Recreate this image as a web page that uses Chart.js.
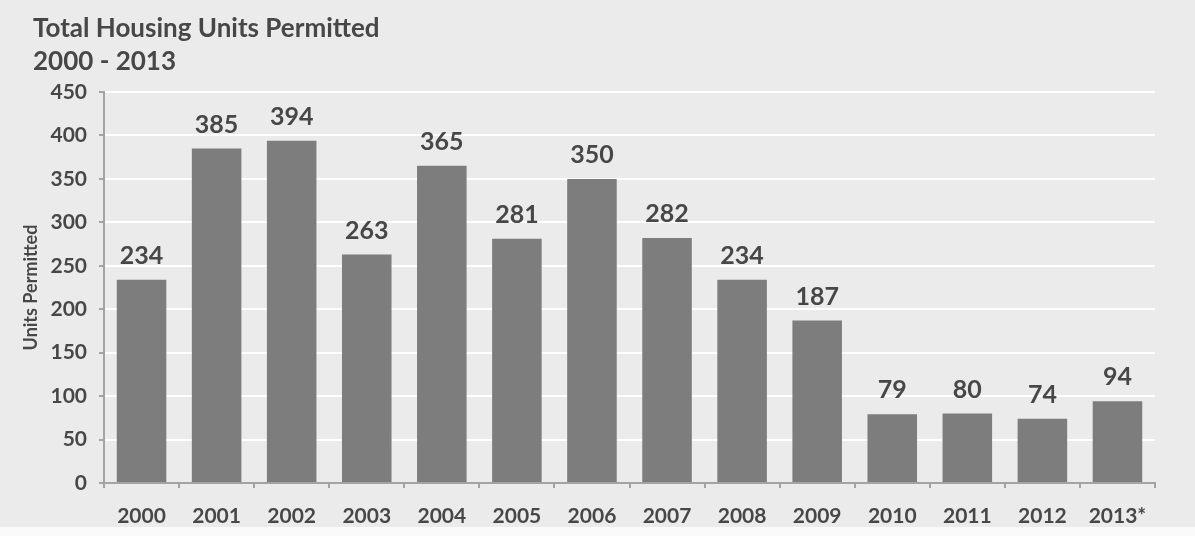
<!DOCTYPE html>
<html>
<head>
<meta charset="utf-8">
<script src="https://cdn.jsdelivr.net/npm/chart.js@4"></script>
<style>
  body { margin: 0; background: #fafafa; }
  canvas { display: block; }
</style>
</head>
<body>
<canvas id="permitsChart" width="1195" height="536"></canvas>
<script>
const years = ['2000', '2001', '2002', '2003', '2004', '2005', '2006', '2007', '2008', '2009', '2010', '2011', '2012', '2013*'];
const unitsPermitted = [234, 385, 394, 263, 365, 281, 350, 282, 234, 187, 79, 80, 74, 94];
const titleLines = ['Total Housing Units Permitted', '2000 - 2013'];

const textColor = '#474747';
const fontFamily = 'Lato, "Open Sans", sans-serif';

// page background, bottom margin strip + heading
const backdrop = {
    id: 'backdrop',
    beforeDraw(chart) {
        const ctx = chart.ctx;
        ctx.save();
        ctx.fillStyle = '#ebebeb';
        ctx.fillRect(0, 0, chart.width, chart.height);
        ctx.fillStyle = '#fafafa';
        ctx.fillRect(0, 527, chart.width, chart.height - 527);
        ctx.fillStyle = textColor;
        ctx.font = 'bold 26px ' + fontFamily;
        ctx.textAlign = 'left';
        ctx.textBaseline = 'middle';
        ctx.fillText(titleLines[0], 33, 29);
        ctx.fillText(titleLines[1], 33, 62);
        ctx.restore();
    }
};

// value above each bar
const barValues = {
    id: 'barValues',
    afterDatasetsDraw(chart) {
        const ctx = chart.ctx;
        const meta = chart.getDatasetMeta(0);
        ctx.save();
        ctx.fillStyle = textColor;
        ctx.font = 'bold 25px ' + fontFamily;
        ctx.textAlign = 'center';
        ctx.textBaseline = 'middle';
        meta.data.forEach((bar, i) => {
            ctx.fillText(unitsPermitted[i], bar.x, bar.y - 24);
        });
        ctx.restore();
    }
};

new Chart(document.getElementById('permitsChart'), {
    type: 'bar',
    data: {
        labels: years,
        datasets: [{
            data: unitsPermitted,
            backgroundColor: '#7d7d7d',
            borderWidth: 0,
            barPercentage: 0.66,
            categoryPercentage: 1
        }]
    },
    options: {
        responsive: false,
        animation: false,
        layout: { padding: { top: 92, right: 40, left: 0, bottom: 0 } },
        plugins: {
            legend: { display: false },
            tooltip: { enabled: false }
        },
        scales: {
            x: {
                afterFit(scale) { scale.height = 53; },
                grid: { drawOnChartArea: false, color: '#a3a3a3', tickLength: 5, lineWidth: 2 },
                border: { color: '#a3a3a3', width: 2 },
                ticks: { color: textColor, font: { family: fontFamily, size: 21, weight: 'bold' }, padding: 16, maxRotation: 0 }
            },
            y: {
                min: 0,
                max: 450,
                afterFit(scale) { scale.width = 104; },
                ticks: { stepSize: 50, color: textColor, font: { family: fontFamily, size: 21, weight: 'bold' }, padding: 12 },
                grid: { color: '#ffffff', lineWidth: 2, tickColor: '#a3a3a3', tickLength: 5 },
                border: { color: '#a3a3a3', width: 2 },
                title: {
                    display: true,
                    text: 'Units Permitted',
                    color: textColor,
                    font: { family: fontFamily, size: 18, weight: 'bold' },
                    padding: { top: 20, bottom: 0 }
                }
            }
        }
    },
    plugins: [backdrop, barValues]
});
</script>
</body>
</html>
